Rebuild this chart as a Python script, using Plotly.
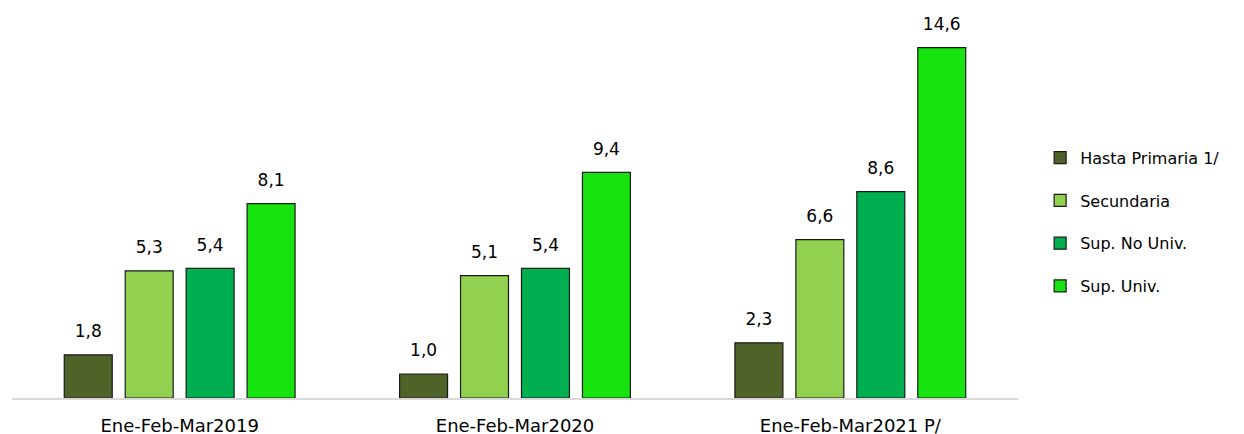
import plotly.graph_objects as go

categories = ["Ene-Feb-Mar2019", "Ene-Feb-Mar2020", "Ene-Feb-Mar2021 P/"]
series_names = ["Hasta Primaria 1/", "Secundaria", "Sup. No Univ.", "Sup. Univ."]
hasta_primaria = [1.8, 1.0, 2.3]
secundaria = [5.3, 5.1, 6.6]
sup_no_univ = [5.4, 5.4, 8.6]
sup_univ = [8.1, 9.4, 14.6]
colors = ["#4F6228", "#92D050", "#00B050", "#17E30F"]

FONT = "DejaVu Sans"
LABEL_LIFT = 0.45  # spacing (data units) between bar top and its value label

fig = go.Figure()
all_vals = [hasta_primaria, secundaria, sup_no_univ, sup_univ]
for i, (name, vals) in enumerate(zip(series_names, all_vals)):
    fig.add_trace(go.Bar(
        x=categories, y=vals, name=name, offsetgroup=str(i),
        marker=dict(color=colors[i], line=dict(color="#1A1A1A", width=1.2)),
        legendgroup=name, hoverinfo="x+y",
    ))
for i, (name, vals) in enumerate(zip(series_names, all_vals)):
    fig.add_trace(go.Bar(
        x=categories, y=[LABEL_LIFT] * len(vals), base=vals, offsetgroup=str(i),
        marker=dict(color="rgba(0,0,0,0)", line=dict(width=0)),
        text=[f"{v:.1f}".replace(".", ",") for v in vals], textposition="outside",
        textfont=dict(family=FONT, size=17, color="#000000"),
        constraintext="none", cliponaxis=False, showlegend=False, hoverinfo="skip",
    ))

fig.update_layout(
    width=1244, height=434,
    margin=dict(l=4, r=234, t=6, b=44),
    paper_bgcolor="white", plot_bgcolor="white",
    barmode="group", bargap=0.273, bargroupgap=0.213,
    separators=",.",
    font=dict(family=FONT, size=17, color="#000000"),
    showlegend=True,
    legend=dict(x=1.022, xanchor="left", y=0.458, yanchor="middle",
                font=dict(family=FONT, size=16, color="#000000"),
                tracegroupgap=19, bgcolor="rgba(0,0,0,0)"),
    xaxis=dict(showline=True, linecolor="#D9D9D9", linewidth=1.5, ticks="",
               showgrid=False, tickfont=dict(family=FONT, size=18),
               ticklabelstandoff=11, automargin=False),
    yaxis=dict(range=[0, 16], visible=False, showgrid=False, zeroline=False,
               automargin=False),
)
fig.write_html("out.html")
